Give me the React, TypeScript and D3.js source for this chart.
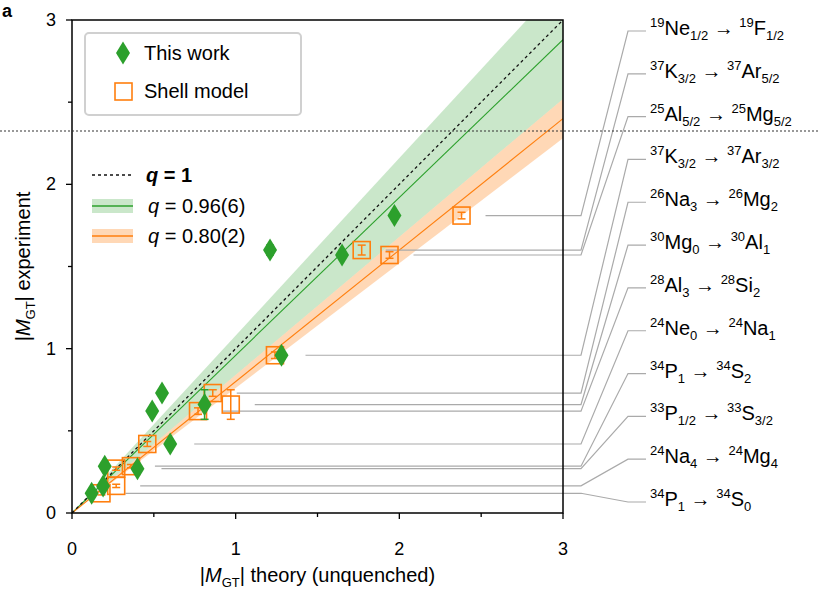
import React from 'react';
import * as d3 from 'd3';

// transitions, ordered as the labels on the right
const parentMass = ['19', '37', '25', '37', '26', '30', '28', '24', '34', '33', '24', '34'];
const parents = ['Ne', 'K', 'Al', 'K', 'Na', 'Mg', 'Al', 'Ne', 'P', 'P', 'Na', 'P'];
const parentSpin = ['1/2', '3/2', '5/2', '3/2', '3', '0', '3', '0', '1', '1/2', '4', '1'];
const daughters = ['F', 'Ar', 'Mg', 'Ar', 'Mg', 'Al', 'Si', 'Na', 'S', 'S', 'Mg', 'S'];
const daughterSpin = ['1/2', '5/2', '5/2', '3/2', '2', '1', '2', '1', '2', '3/2', '4', '0'];

// |M_GT| values
const thisWorkX = [1.97, 1.21, 1.65, 1.28, 0.55, 0.81, 0.49, 0.6, 0.2, 0.4, 0.19, 0.12];
const shellModelX = [2.38, 1.77, 1.94, 1.24, 0.86, 0.97, 0.77, 0.46, 0.36, 0.27, 0.27, 0.18];
const experimentY = [1.81, 1.6, 1.57, 0.96, 0.73, 0.66, 0.62, 0.42, 0.285, 0.27, 0.165, 0.12];
const experimentErr = [0.02, 0.03, 0.02, 0.02, 0.02, 0.09, 0.02, 0.015, 0.01, 0.01, 0.01, 0.01];

const majorTicks = [0, 1, 2, 3];
const minorTicks = [0.5, 1.5, 2.5];

const qGreen = { q: 0.96, lo: 0.84, hi: 1.08, label: '0.96(6)' };
const qOrange = { q: 0.8, lo: 0.76, hi: 0.84, label: '0.80(2)' };

const GREEN = '#2ca02c';
const ORANGE = '#ff7f0e';
const FONT = 'Liberation Sans, Arial, Helvetica, sans-serif';

const W = 818;
const H = 589;

const diamond = (cx: number, cy: number, w = 7, h = 11.5) =>
  `M${cx},${cy - h}L${cx + w},${cy}L${cx},${cy + h}L${cx - w},${cy}Z`;

export default function App() {
  const x = d3.scaleLinear().domain([0, 3]).range([72, 563]);
  const y = d3.scaleLinear().domain([0, 3]).range([513, 20]);
  const labelY = d3.scaleLinear().domain([0, parents.length - 1]).range([31, 502]);

  const band = (lo: number, hi: number) =>
    d3.line()([
      [x(0), y(0)],
      [x(3), y(3 * hi)],
      [x(3), y(3 * lo)],
    ]) + 'Z';

  const errBar = (cx: number, v: number, e: number, color: string, key: string) => (
    <g key={key} stroke={color} strokeWidth={1.5}>
      <line x1={cx} x2={cx} y1={y(v - e)} y2={y(v + e)} />
      <line x1={cx - 4} x2={cx + 4} y1={y(v - e)} y2={y(v - e)} />
      <line x1={cx - 4} x2={cx + 4} y1={y(v + e)} y2={y(v + e)} />
    </g>
  );

  return (
    <svg width={W} height={H} style={{ position: 'absolute', left: 0, top: 0, display: 'block' }}
      fontFamily={FONT}>
      <defs>
        <clipPath id="plot">
          <rect x={x(0)} y={y(3)} width={x(3) - x(0)} height={y(0) - y(3)} />
        </clipPath>
      </defs>
      <rect width={W} height={H} fill="#fff" />

      <text x={2} y={17} fontSize={18} fontWeight="bold">a</text>

      {/* bands and fit lines */}
      <g clipPath="url(#plot)">
        <path d={band(qGreen.lo, qGreen.hi)} fill={GREEN} fillOpacity={0.25} />
        <path d={band(qOrange.lo, qOrange.hi)} fill={ORANGE} fillOpacity={0.3} />
        <line x1={x(0)} y1={y(0)} x2={x(3)} y2={y(3 * qGreen.q)} stroke={GREEN} strokeWidth={1.1} />
        <line x1={x(0)} y1={y(0)} x2={x(3)} y2={y(3 * qOrange.q)} stroke={ORANGE} strokeWidth={1.1} />
        <line x1={x(0)} y1={y(0)} x2={x(3)} y2={y(3)} stroke="#111" strokeWidth={1.3}
          strokeDasharray="3,3" />
      </g>

      {/* leader lines to labels */}
      <g fill="none" stroke="#aaa" strokeWidth={1.2}>
        {experimentY.map((v, i) => {
          const x0 = Math.max(x(thisWorkX[i]), x(shellModelX[i])) + 24;
          const ly = labelY(i);
          return (
            <polyline key={i}
              points={`${x0},${y(v)} 581,${y(v)} 628,${ly} 646,${ly}`} />
          );
        })}
      </g>

      {/* shell model squares */}
      {shellModelX.map((sx, i) => (
        <g key={'s' + i}>
          <rect x={x(sx) - 8.5} y={y(experimentY[i]) - 8.5} width={17} height={17}
            fill="none" stroke={ORANGE} strokeWidth={1.6} />
          {errBar(x(sx), experimentY[i], experimentErr[i], ORANGE, 'se' + i)}
        </g>
      ))}

      {/* this work diamonds */}
      {thisWorkX.map((tx, i) => (
        <g key={'d' + i}>
          {errBar(x(tx), experimentY[i], experimentErr[i], GREEN, 'de' + i)}
          <path d={diamond(x(tx), y(experimentY[i]))} fill={GREEN} />
        </g>
      ))}

      {/* frame */}
      <rect x={x(0)} y={y(3)} width={x(3) - x(0)} height={y(0) - y(3)} fill="none"
        stroke="#000" strokeWidth={1.5} />

      {/* ticks */}
      <g stroke="#000" strokeWidth={1.3}>
        {majorTicks.map(t => (
          <g key={'mt' + t}>
            <line x1={x(t)} x2={x(t)} y1={y(0)} y2={y(0) + 6} />
            <line x1={x(0)} x2={x(0) - 6} y1={y(t)} y2={y(t)} />
          </g>
        ))}
        {minorTicks.map(t => (
          <g key={'mn' + t}>
            <line x1={x(t)} x2={x(t)} y1={y(0)} y2={y(0) + 4} />
            <line x1={x(0)} x2={x(0) - 4} y1={y(t)} y2={y(t)} />
          </g>
        ))}
      </g>
      <g fontSize={18} fill="#000">
        {majorTicks.map(t => (
          <g key={'tl' + t}>
            <text x={x(t)} y={y(0) + 42} textAnchor="middle">{t}</text>
            <text x={x(0) - 16} y={y(t) + 6} textAnchor="end">{t}</text>
          </g>
        ))}
      </g>

      {/* axis titles */}
      <text x={(x(0) + x(3)) / 2} y={582} textAnchor="middle" fontSize={20}>
        |<tspan fontStyle="italic">M</tspan>
        <tspan fontSize={13} dy={5}>GT</tspan>
        <tspan dy={-5}>| theory (unquenched)</tspan>
      </text>
      <text transform={`translate(30,${(y(0) + y(3)) / 2}) rotate(-90)`} textAnchor="middle"
        fontSize={20}>
        |<tspan fontStyle="italic">M</tspan>
        <tspan fontSize={13} dy={5}>GT</tspan>
        <tspan dy={-5}>| experiment</tspan>
      </text>

      {/* legend 1 */}
      <rect x={85} y={33} width={216} height={82} rx={4} fill="#fff" stroke="#d0d0d0"
        strokeWidth={2} />
      <path d={diamond(123, 53)} fill={GREEN} />
      <text x={144} y={60} fontSize={20}>This work</text>
      <rect x={115} y={83} width={17} height={17} fill="none" stroke={ORANGE} strokeWidth={1.6} />
      <text x={144} y={98} fontSize={20}>Shell model</text>

      {/* legend 2 */}
      <line x1={92} x2={132} y1={175} y2={175} stroke="#111" strokeWidth={1.3} strokeDasharray="3,3" />
      <text x={146} y={182} fontSize={20} fontWeight="bold">
        <tspan fontStyle="italic">q</tspan> = 1
      </text>
      <rect x={92} y={199} width={41} height={14} fill={GREEN} fillOpacity={0.25} />
      <line x1={92} x2={133} y1={206} y2={206} stroke={GREEN} strokeWidth={1.3} />
      <text x={148} y={213} fontSize={20}>
        <tspan fontStyle="italic">q</tspan> = {qGreen.label}
      </text>
      <rect x={92} y={229} width={41} height={14} fill={ORANGE} fillOpacity={0.3} />
      <line x1={92} x2={133} y1={236} y2={236} stroke={ORANGE} strokeWidth={1.3} />
      <text x={148} y={243} fontSize={20}>
        <tspan fontStyle="italic">q</tspan> = {qOrange.label}
      </text>

      {/* dotted separator */}
      <line x1={0} x2={W} y1={131} y2={131} stroke="#333" strokeWidth={1.2}
        strokeDasharray="2,2" />

      {/* transition labels */}
      <g fontSize={20} fill="#000">
        {parents.map((p, i) => {
          const ly = labelY(i) + 4;
          return (
            <text key={'lab' + i} x={650} y={ly}>
              <tspan fontSize={13} dy={-8}>{parentMass[i]}</tspan>
              <tspan dy={8}>{p}</tspan>
              <tspan fontSize={13} dy={5}>{parentSpin[i]}</tspan>
              <tspan dy={-5}>{' \u2192 '}</tspan>
              <tspan fontSize={13} dy={-8}>{parentMass[i]}</tspan>
              <tspan dy={8}>{daughters[i]}</tspan>
              <tspan fontSize={13} dy={5}>{daughterSpin[i]}</tspan>
            </text>
          );
        })}
      </g>
    </svg>
  );
}
